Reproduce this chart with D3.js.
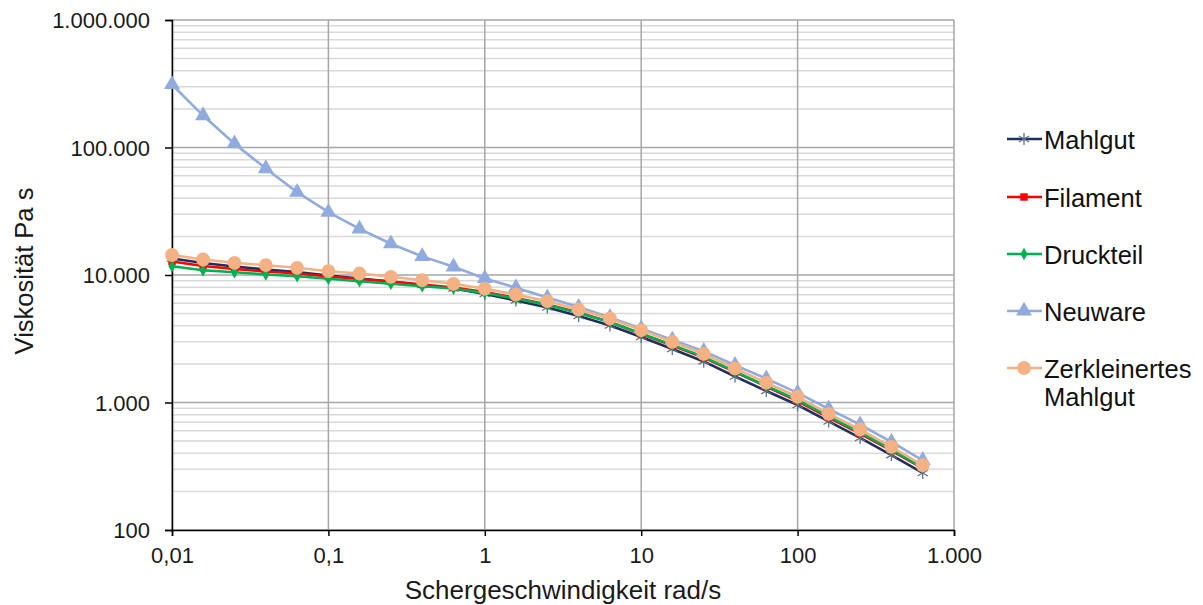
<!DOCTYPE html>
<html>
<head>
<meta charset="utf-8">
<script src="https://cdn.jsdelivr.net/npm/d3@7"></script>
<style>
body { margin: 0; background: #fff; }
svg { font-family: "Liberation Sans", Arial, sans-serif; }
</style>
</head>
<body>
<svg id="chart" width="1203" height="605"></svg>
<script>
// shear rates, 5 points per decade
var shear = [0.01, 0.0158, 0.0251, 0.0398, 0.0631, 0.1, 0.158, 0.251, 0.398, 0.631,
  1, 1.58, 2.51, 3.98, 6.31, 10, 15.8, 25.1, 39.8, 63.1, 100, 158, 251, 398, 631];

var mahlgut = [13470, 12420, 11660, 11040, 10560, 9910, 9390, 8890, 8350, 7840,
  7100, 6310, 5560, 4770, 4020, 3265, 2630, 2100, 1600, 1231, 956, 710, 527, 387, 280];
var filament = [12760, 11770, 11150, 10650, 10270, 9730, 9300, 8890, 8420, 7980,
  7360, 6600, 5870, 5080, 4280, 3450, 2800, 2250, 1735, 1335, 1027, 763, 571, 420, 304];
var druckteil = [11720, 10900, 10520, 10090, 9790, 9340, 8940, 8530, 8170, 7840,
  7230, 6540, 5820, 5040, 4280, 3480, 2830, 2280, 1750, 1350, 1046, 777, 582, 428, 306];
var neuware = [312000, 178000, 107000, 68400, 44600, 31100, 23000, 17600, 14000, 11600,
  9400, 7950, 6650, 5600, 4650, 3800, 3100, 2530, 1960, 1540, 1190, 890, 670, 490, 352];
var zerkleinert = [14350, 13230, 12460, 11940, 11390, 10710, 10270, 9680, 9100, 8530,
  7800, 7030, 6230, 5360, 4560, 3700, 2990, 2410, 1850, 1430, 1110, 815, 614, 449, 322];

var xTicks = [0.01, 0.1, 1, 10, 100, 1000];
var xTickLabels = ["0,01", "0,1", "1", "10", "100", "1.000"];
var yTicks = [100, 1000, 10000, 100000, 1000000];
var yTickLabels = ["100", "1.000", "10.000", "100.000", "1.000.000"];

var series = [
  {name: ["Mahlgut"], values: mahlgut, color: "#1f2f5f", mark: "#5f6f8f", shape: "star"},
  {name: ["Filament"], values: filament, color: "#ff0000", mark: "#ff0000", shape: "square"},
  {name: ["Druckteil"], values: druckteil, color: "#00b050", mark: "#00b050", shape: "diamond"},
  {name: ["Neuware"], values: neuware, color: "#91abde", mark: "#91abde", shape: "triangle"},
  {name: ["Zerkleinertes", "Mahlgut"], values: zerkleinert, color: "#f4b183", mark: "#f4b183", shape: "circle"}
];

var svg = d3.select("#chart");
var mLeft = 172, mRight = 954, mTop = 20, mBottom = 530;

var x = d3.scaleLog().domain([0.01, 1000]).range([mLeft, mRight]);
var y = d3.scaleLog().domain([100, 1000000]).range([mBottom, mTop]);

// minor horizontal grid
var minor = [];
yTicks.slice(0, -1).forEach(function(t) {
  for (var k = 2; k <= 9; k++) minor.push(t * k);
});
svg.append("g").selectAll("line").data(minor).enter().append("line")
  .attr("x1", mLeft).attr("x2", mRight)
  .attr("y1", function(d) { return y(d); }).attr("y2", function(d) { return y(d); })
  .style("stroke", "#d9d9d9").style("stroke-width", 1.5);

// major grid
svg.append("g").selectAll("line").data(yTicks).enter().append("line")
  .attr("x1", mLeft).attr("x2", mRight)
  .attr("y1", function(d) { return y(d); }).attr("y2", function(d) { return y(d); })
  .style("stroke", "#a6a6a6").style("stroke-width", 1.5);
svg.append("g").selectAll("line").data(xTicks).enter().append("line")
  .attr("y1", mTop).attr("y2", mBottom)
  .attr("x1", function(d) { return x(d); }).attr("x2", function(d) { return x(d); })
  .style("stroke", "#a6a6a6").style("stroke-width", 1.5);

// axes
var yAxis = d3.axisLeft(y).tickValues(yTicks).tickSize(7).tickPadding(15)
  .tickFormat(function(d, i) { return yTickLabels[i]; });
var xAxis = d3.axisBottom(x).tickValues(xTicks).tickSize(6).tickPadding(11)
  .tickFormat(function(d, i) { return xTickLabels[i]; });

var gy = svg.append("g").attr("transform", "translate(" + mLeft + ",0)").call(yAxis);
var gx = svg.append("g").attr("transform", "translate(0," + mBottom + ")").call(xAxis);
[gx, gy].forEach(function(g) {
  g.select(".domain").style("stroke", "#000").style("stroke-width", 1.5);
  g.selectAll(".tick line").style("stroke", "#000").style("stroke-width", 1.5);
  g.selectAll(".tick text").style("font-size", "22px").style("fill", "#1a1a1a")
    .style("font-family", "'Liberation Sans', Arial, sans-serif");
});
gy.selectAll(".tick text").attr("dy", "0.36em");

// axis titles
svg.append("text").attr("x", 563).attr("y", 599).attr("text-anchor", "middle")
  .style("font-size", "26px").style("fill", "#1a1a1a").text("Schergeschwindigkeit rad/s");
svg.append("text").attr("transform", "translate(33,271) rotate(-90)").attr("text-anchor", "middle")
  .style("font-size", "25.5px").style("fill", "#1a1a1a").text("Viskosität Pa s");

function drawMarker(g, shape, color, size) {
  if (shape == "star") {
    var r = size;
    for (var a = 0; a < 3; a++) {
      var ang = a * Math.PI / 3 + Math.PI / 2;
      g.append("line")
        .attr("x1", -r * Math.cos(ang)).attr("y1", -r * Math.sin(ang))
        .attr("x2", r * Math.cos(ang)).attr("y2", r * Math.sin(ang))
        .style("stroke", color).style("stroke-width", 1.3);
    }
  } else {
    var sym = {square: d3.symbolSquare, diamond: d3.symbolDiamond,
      triangle: d3.symbolTriangle, circle: d3.symbolCircle}[shape];
    var area = {square: 55, diamond: 45, triangle: 110, circle: 150}[shape];
    g.append("path").attr("d", d3.symbol().type(sym).size(area)())
      .style("fill", color);
  }
}

var line = d3.line()
  .x(function(d) { return x(d[0]); })
  .y(function(d) { return y(d[1]); });

series.forEach(function(s) {
  var pts = shear.map(function(v, i) { return [v, s.values[i]]; });
  var g = svg.append("g");
  g.append("path").datum(pts).attr("d", line)
    .style("fill", "none").style("stroke", s.color).style("stroke-width", 2.6);
  pts.forEach(function(p) {
    var m = g.append("g").attr("transform", "translate(" + x(p[0]) + "," + y(p[1]) + ")");
    drawMarker(m, s.shape, s.mark, 6);
  });
});

// legend
var legY = [139, 197, 254, 311, 368];
series.forEach(function(s, i) {
  var lg = svg.append("g").attr("transform", "translate(1007," + legY[i] + ")");
  lg.append("line").attr("x1", 0).attr("x2", 35).attr("y1", 0).attr("y2", 0)
    .style("stroke", s.color).style("stroke-width", 2.6);
  var m = lg.append("g").attr("transform", "translate(17,0)");
  drawMarker(m, s.shape, s.mark, 6);
  s.name.forEach(function(n, j) {
    lg.append("text").attr("x", 37).attr("y", 9.5 + j * 28.5)
      .style("font-size", "25.5px").style("fill", "#111").text(n);
  });
});
</script>
</body>
</html>
